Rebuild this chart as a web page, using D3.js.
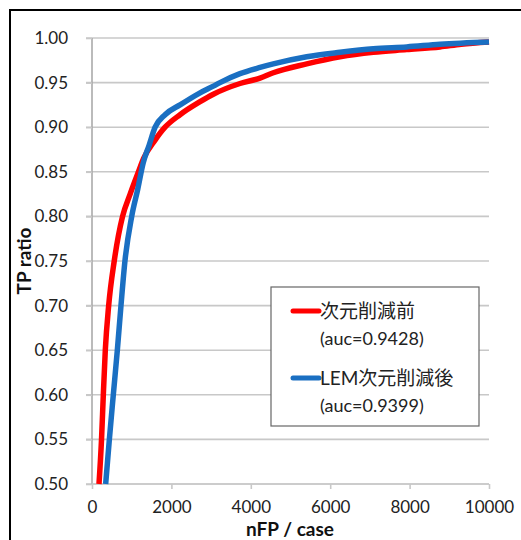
<!DOCTYPE html>
<html>
<head>
<meta charset="utf-8">
<script src="https://cdn.jsdelivr.net/npm/d3@7"></script>
<style>
  body { margin: 0; background: #fff; }
  svg { display: block; font-family: Lato, "Noto Sans CJK JP", sans-serif; }
</style>
</head>
<body>
<div class="canvas"></div>
<script>
// dimensions
const w = 521;
const h = 540;
const margin = { top: 38, right: 32, bottom: 56, left: 92 };
const graphWidth = w - margin.left - margin.right;
const graphHeight = h - margin.top - margin.bottom;

// series: before dimension reduction (red)
const fpBefore = [176, 240, 285, 335, 420, 560, 770, 960, 1170, 1300, 1580, 1840, 2217, 2700, 3056, 3728, 4232, 4567, 5408, 6247, 7086, 7927, 8766, 9300, 10000];
const tpBefore = [0.50, 0.55, 0.60, 0.65, 0.70, 0.75, 0.80, 0.825, 0.85, 0.865, 0.885, 0.90, 0.914, 0.928, 0.937, 0.949, 0.955, 0.961, 0.971, 0.979, 0.984, 0.987, 0.990, 0.993, 0.9955];

// series: after LEM dimension reduction (blue)
const fpAfter = [344, 437, 537, 638, 730, 830, 1000, 1150, 1290, 1440, 1590, 1840, 2217, 2700, 3056, 3224, 3728, 4232, 4567, 5408, 6247, 7086, 7927, 8766, 10000];
const tpAfter = [0.50, 0.55, 0.60, 0.65, 0.70, 0.75, 0.80, 0.83, 0.86, 0.88, 0.90, 0.914, 0.925, 0.938, 0.946, 0.950, 0.960, 0.967, 0.971, 0.979, 0.984, 0.988, 0.990, 0.993, 0.9955];

// ticks and labels
const xTicks = [0, 2000, 4000, 6000, 8000, 10000];
const yTicks = [0.50, 0.55, 0.60, 0.65, 0.70, 0.75, 0.80, 0.85, 0.90, 0.95, 1.00];
const legendNames = ["次元削減前", "LEM次元削減後"];
const legendAuc = ["(auc=0.9428)", "(auc=0.9399)"];
const colors = ["#ff0000", "#1a6fc2"];

const svg = d3.select(".canvas").append("svg").attr("width", w).attr("height", h);

// outer frame
svg.append("rect")
  .attr("x", 10).attr("y", 10)
  .attr("width", 560).attr("height", 600)
  .attr("fill", "none").attr("stroke", "#000").attr("stroke-width", 2);

const graph = svg.append("g").attr("transform", `translate(${margin.left}, ${margin.top})`);

const xScale = d3.scaleLinear().domain([0, 10000]).range([0, graphWidth]);
const yScale = d3.scaleLinear().domain([0.5, 1.0]).range([graphHeight, 0]);

// horizontal grid lines
graph.append("g")
  .selectAll("line")
  .data(yTicks)
  .enter()
  .append("line")
  .attr("x1", -6)
  .attr("x2", graphWidth)
  .attr("y1", d => yScale(d))
  .attr("y2", d => yScale(d))
  .attr("stroke", "#c8c8c8")
  .attr("stroke-width", 1.6);

// y-axis
const yAxis = d3.axisLeft(yScale).tickValues(yTicks).tickFormat(d3.format(".2f")).tickSize(6).tickPadding(18);
const yAxisG = graph.append("g").call(yAxis);
yAxisG.select(".domain").attr("stroke", "#aaa").attr("stroke-width", 1.6).attr("d", `M0,0V${graphHeight}`);
yAxisG.selectAll(".tick line").attr("stroke", "#c8c8c8").attr("stroke-width", 1.6);
yAxisG.selectAll(".tick text").attr("font-size", 17).attr("fill", "#222").attr("font-family", "Lato, sans-serif");

// x-axis
const xAxis = d3.axisBottom(xScale).tickValues(xTicks).tickFormat(d3.format("d")).tickSize(5).tickPadding(12);
const xAxisG = graph.append("g").attr("transform", `translate(0, ${graphHeight})`).call(xAxis);
xAxisG.select(".domain").attr("stroke", "#c8c8c8").attr("stroke-width", 1.6).attr("d", `M0,0H${graphWidth}`);
xAxisG.selectAll(".tick line").attr("stroke", "#c8c8c8").attr("stroke-width", 1.6);
xAxisG.selectAll(".tick text").attr("font-size", 17).attr("fill", "#222").attr("font-family", "Lato, sans-serif");

// curves
const line = d3.line()
  .x(d => xScale(d[0]))
  .y(d => yScale(d[1]))
  .curve(d3.curveMonotoneX);

const series = [
  fpBefore.map((v, i) => [v, tpBefore[i]]),
  fpAfter.map((v, i) => [v, tpAfter[i]])
];

graph.selectAll("path.curve")
  .data(series)
  .enter()
  .append("path")
  .attr("class", "curve")
  .attr("d", line)
  .attr("fill", "none")
  .attr("stroke", (d, i) => colors[i])
  .attr("stroke-width", 5.5)
  .attr("stroke-linejoin", "round");

// axis titles
svg.append("text")
  .attr("x", 290).attr("y", 536)
  .attr("text-anchor", "middle")
  .attr("font-size", 19).attr("font-weight", "bold").attr("fill", "#111")
  .text("nFP / case");

svg.append("text")
  .attr("transform", "translate(31, 261) rotate(-90)")
  .attr("text-anchor", "middle")
  .attr("font-size", 19).attr("font-weight", "bold").attr("fill", "#111")
  .text("TP ratio");

// legend
const legend = svg.append("g").attr("transform", "translate(271, 287)");
legend.append("rect")
  .attr("width", 208).attr("height", 139)
  .attr("fill", "#fff").attr("stroke", "#666").attr("stroke-width", 1.2);

const items = legend.selectAll("g.item")
  .data(legendNames)
  .enter()
  .append("g")
  .attr("class", "item")
  .attr("transform", (d, i) => `translate(0, ${24 + i * 67})`);

items.append("line")
  .attr("x1", 22).attr("x2", 48)
  .attr("stroke", (d, i) => colors[i])
  .attr("stroke-width", 5)
  .attr("stroke-linecap", "round");

items.append("text")
  .attr("x", 49).attr("y", 7)
  .attr("font-size", 19).attr("fill", "#222")
  .text(d => d);

items.append("text")
  .attr("x", 49).attr("y", 34)
  .attr("font-size", 18).attr("fill", "#222")
  .text((d, i) => legendAuc[i]);
</script>
</body>
</html>
